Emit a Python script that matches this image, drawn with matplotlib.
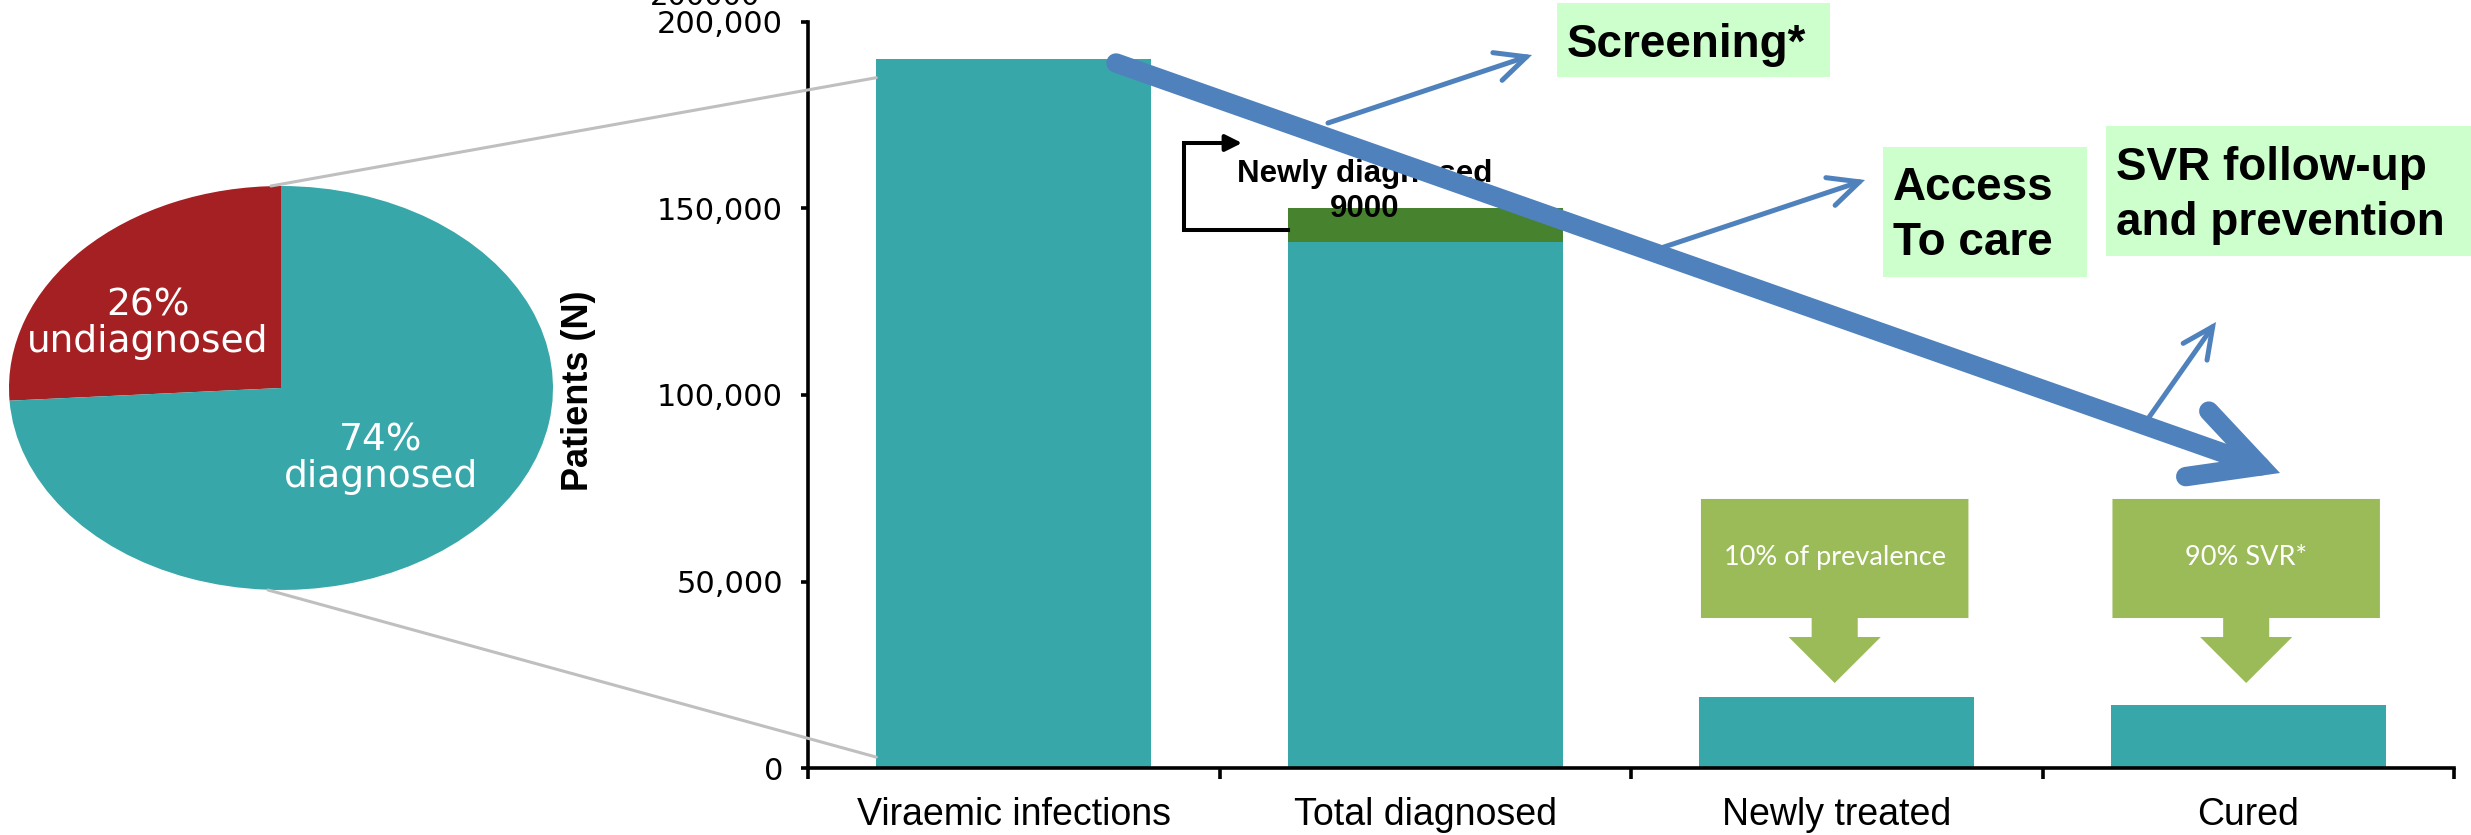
import matplotlib
matplotlib.use("Agg")
import matplotlib.pyplot as plt
from matplotlib.patches import Rectangle, Polygon, FancyArrowPatch, ConnectionPatch
from matplotlib.lines import Line2D
from matplotlib.ticker import FuncFormatter

W, H = 2471, 835

# ---- data ----
categories = ["Viraemic infections", "Total diagnosed", "Newly treated", "Cured"]
base_values = [190000, 141000, 19000, 17000]
newly_diagnosed = [0, 9000, 0, 0]
y_ticks = [0, 50000, 100000, 150000, 200000]
pie_values = [26, 74]
pie_labels = ["26%\nundiagnosed", "74%\ndiagnosed"]
callout_texts = {2: "10% of prevalence", 3: "90% SVR*"}
box_texts = ["Screening*", "Access\nTo care", "SVR follow-up\nand prevention"]
newly_text = "Newly diagnosed\n9000"

# ---- colours ----
TEAL = "#37A7AA"
RED = "#A52022"
DGREEN = "#47822E"
LGREEN = "#9BBB59"
PALE = "#CCFFCC"
BLUE = "#4F81BD"
GREY = "#BFBFBF"

fig = plt.figure(figsize=(W / 100, H / 100), dpi=100)


def fx(x):
    return x / W


def fy(y):
    return 1 - y / H


# ---- bar chart ----
ax = fig.add_axes([fx(808), fy(768.3), (2454 - 808) / W, (768.3 - 21.7) / H])
xs = list(range(len(categories)))
ax.bar(xs, base_values, width=0.668, color=TEAL, zorder=2)
ax.bar(xs, newly_diagnosed, bottom=base_values, width=0.668, color=DGREEN, zorder=2)
ax.set_xlim(-0.5, 3.5)
ax.set_ylim(0, 200000)
ax.spines[["top", "right"]].set_visible(False)
for s in ["left", "bottom"]:
    ax.spines[s].set_linewidth(2.6)
ax.set_yticks(y_ticks)
ax.yaxis.set_major_formatter(FuncFormatter(lambda v, p: f"{int(v):,}"))
ax.tick_params(axis="y", length=5, width=2.6, pad=13, labelsize=22,
               labelfontfamily="DejaVu Sans")
ax.set_xticks(xs)
ax.set_xticklabels(categories, fontsize=27, fontfamily="Liberation Sans")
ax.tick_params(axis="x", which="major", length=0, pad=21)
ax.set_xticks([-0.5, 0.5, 1.5, 2.5, 3.5], minor=True)
ax.tick_params(axis="x", which="minor", length=8, width=2.6)
ax.set_ylabel("Patients (N)", fontsize=26, fontweight="bold",
              fontfamily="Liberation Sans", va="center")
ax.yaxis.set_label_coords((578 - 808) / 1646, (768.3 - 391) / 746.6)

# callout arrows above the last two bars
for i, txt in callout_texts.items():
    c = i - 0.005
    x0, x1 = i - 0.33, i + 0.32
    top, bot, stem_b, tip = 72150, 40260, 35170, 22850
    pts = [(x0, top), (x1, top), (x1, bot), (c + 0.056, bot), (c + 0.056, stem_b),
           (c + 0.112, stem_b), (c, tip), (c - 0.112, stem_b), (c - 0.056, stem_b),
           (c - 0.056, bot), (x0, bot)]
    ax.add_patch(Polygon(pts, closed=True, facecolor=LGREEN, edgecolor="none", zorder=3))
    ax.text(c, 56600, txt, color="white", ha="center", va="center",
            fontsize=19.5, fontfamily="Lato", zorder=4)

# ---- pie (stretched into an ellipse) ----
pax = fig.add_axes([fx(9), fy(590), (553 - 9) / W, (590 - 186) / H])
pax.pie(pie_values, colors=[RED, TEAL], startangle=90, counterclock=True,
        wedgeprops={"linewidth": 0})
pax.set_aspect("auto")
pax.set_xlim(-1, 1)
pax.set_ylim(-1, 1)
pax.axis("off")

fig.text(fx(148), fy(324), pie_labels[0], color="white", ha="center", va="center",
         multialignment="center", fontsize=27, fontfamily="DejaVu Sans", linespacing=1.02)
fig.text(fx(381), fy(459), pie_labels[1], color="white", ha="center", va="center",
         multialignment="center", fontsize=27, fontfamily="DejaVu Sans", linespacing=1.02)

# grey zoom lines from pie to first bar
for pxy, by in [((-0.037, 1.0), 185000), ((-0.048, -1.0), 3000)]:
    con = ConnectionPatch(xyA=pxy, coordsA=pax.transData, xyB=(-0.334, by),
                          coordsB=ax.transData, color=GREY, lw=2.2, zorder=1)
    fig.add_artist(con)


# ---- light green boxes ----
def fig_rect(x0, y0, x1, y1, **kw):
    r = Rectangle((fx(x0), fy(y1)), (x1 - x0) / W, (y1 - y0) / H,
                  transform=fig.transFigure, **kw)
    fig.add_artist(r)


fig_rect(1557, 3, 1830, 77, facecolor=PALE, edgecolor="none", zorder=1)
fig_rect(1883, 147, 2087, 277, facecolor=PALE, edgecolor="none", zorder=1)
fig_rect(2106, 126, 2480, 256, facecolor=PALE, edgecolor="none", zorder=1)

fig.text(fx(1567), fy(57), box_texts[0], ha="left", va="baseline", fontsize=33,
         fontweight="bold", fontfamily="Liberation Sans")
fig.text(fx(1893), fy(166), box_texts[1], ha="left", va="top", fontsize=33,
         fontweight="bold", fontfamily="Liberation Sans", linespacing=1.32)
fig.text(fx(2116), fy(146), box_texts[2], ha="left", va="top", fontsize=33,
         fontweight="bold", fontfamily="Liberation Sans", linespacing=1.32)

# ---- newly diagnosed annotation ----
fig.text(fx(1365), fy(159), newly_text, ha="center", va="top", multialignment="center",
         fontsize=22.5, fontweight="bold", fontfamily="Liberation Sans",
         linespacing=1.22, zorder=3)
fig.add_artist(Line2D([fx(1288), fx(1184), fx(1184)], [fy(230), fy(230), fy(143)],
                      transform=fig.transFigure, color="black", lw=2.9,
                      solid_joinstyle="miter", zorder=3))
fig.add_artist(FancyArrowPatch(posA=(fx(1184), fy(143)), posB=(fx(1242), fy(143)),
                               transform=fig.transFigure,
                               arrowstyle="-|>,head_length=10,head_width=5",
                               mutation_scale=1, lw=2.9, color="black",
                               shrinkA=0, shrinkB=0, zorder=3))


# ---- blue arrows ----
def blue_arrow(p0, p1, lw, hl, hw):
    a = FancyArrowPatch(posA=(fx(p0[0]), fy(p0[1])), posB=(fx(p1[0]), fy(p1[1])),
                        transform=fig.transFigure,
                        arrowstyle=f"->,head_length={hl},head_width={hw}",
                        mutation_scale=1, lw=lw, color=BLUE, shrinkA=0, shrinkB=0,
                        capstyle="round", joinstyle="miter", zorder=5)
    fig.add_artist(a)


blue_arrow((1116, 63), (2280, 473), 14, 48, 25)
blue_arrow((1328, 123), (1532, 55), 3.6, 22, 10.5)
blue_arrow((1661, 248), (1865, 180), 3.6, 22, 10.5)
blue_arrow((2145, 423), (2216, 322), 3.6, 22, 10.5)

# clipped label remnant at the very top
fig.text(fx(760), fy(5), "200000", ha="right", va="baseline", fontsize=21,
         fontfamily="DejaVu Sans")

fig.savefig("out.png", dpi=100)
